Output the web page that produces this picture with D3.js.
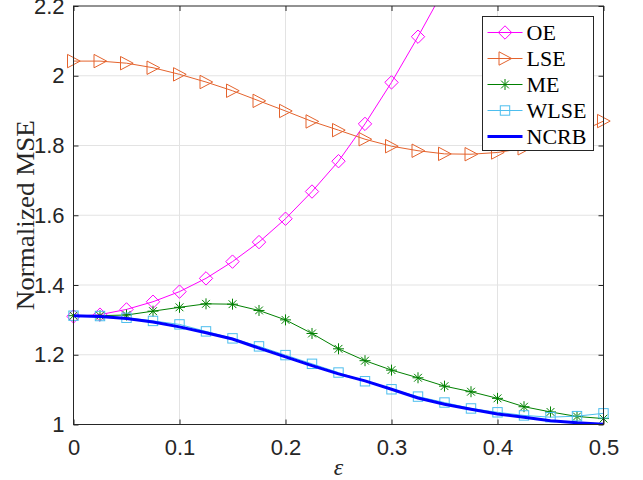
<!DOCTYPE html>
<html>
<head>
<meta charset="utf-8">
<script src="https://cdn.jsdelivr.net/npm/d3@7"></script>
<style>
  body { margin: 0; background: #fff; }
  svg { display: block; }
</style>
</head>
<body>
<svg width="643" height="480"></svg>
<script>
// data
const eps = [0, 0.025, 0.05, 0.075, 0.1, 0.125, 0.15, 0.175, 0.2, 0.225, 0.25,
             0.275, 0.3, 0.325, 0.35, 0.375, 0.4, 0.425, 0.45, 0.475, 0.5];
const oe   = [1.31, 1.315, 1.33, 1.352, 1.381, 1.419, 1.467, 1.523, 1.59, 1.668, 1.755,
              1.862, 1.981, 2.112, 2.25];
const lse  = [2.042, 2.042, 2.036, 2.023, 2.004, 1.982, 1.957, 1.928, 1.899, 1.869, 1.844,
              1.818, 1.798, 1.785, 1.776, 1.775, 1.78, 1.792, 1.81, 1.835, 1.87];
const me   = [1.312, 1.312, 1.314, 1.325, 1.336, 1.346, 1.345, 1.327, 1.3, 1.261, 1.217,
              1.183, 1.156, 1.134, 1.11, 1.094, 1.075, 1.051, 1.036, 1.023, 1.017];
const wlse = [1.312, 1.311, 1.306, 1.297, 1.287, 1.267, 1.247, 1.224, 1.199, 1.174, 1.149,
              1.124, 1.101, 1.08, 1.063, 1.046, 1.035, 1.026, 1.021, 1.024, 1.032];
const ncrb = [1.312, 1.31, 1.304, 1.294, 1.28, 1.263, 1.245, 1.219, 1.194, 1.169, 1.145,
              1.125, 1.101, 1.076, 1.058, 1.044, 1.03, 1.021, 1.011, 1.005, 1.001];

const xTicks = [0, 0.1, 0.2, 0.3, 0.4, 0.5];
const xTickLabels = ["0", "0.1", "0.2", "0.3", "0.4", "0.5"];
const yTicks = [1, 1.2, 1.4, 1.6, 1.8, 2, 2.2];
const yTickLabels = ["1", "1.2", "1.4", "1.6", "1.8", "2", "2.2"];

const series = [
  {name: "OE",   values: oe,   color: "#ff00ff", marker: "diamond",  width: 1},
  {name: "LSE",  values: lse,  color: "#e4632d", marker: "triangle", width: 1},
  {name: "ME",   values: me,   color: "#008000", marker: "asterisk", width: 1},
  {name: "WLSE", values: wlse, color: "#4dbeee", marker: "square",   width: 1},
  {name: "NCRB", values: ncrb, color: "#0000ff", marker: null,       width: 3}
];

const svg = d3.select("svg"),
    margin = {top: 6, right: 39.5, bottom: 55.5, left: 73.5},
    width = +svg.attr("width") - margin.left - margin.right,
    height = +svg.attr("height") - margin.top - margin.bottom;

const chart = svg.append("g").attr("transform", `translate(${margin.left},${margin.top})`);

const x = d3.scaleLinear().domain([0, 0.5]).range([0, width]);
const y = d3.scaleLinear().domain([1, 2.2]).range([height, 0]);

// grid
chart.append("g")
    .selectAll("line")
    .data(xTicks.slice(1, -1))
    .join("line")
    .attr("x1", d => x(d)).attr("x2", d => x(d))
    .attr("y1", 0).attr("y2", height)
    .attr("stroke", "#e3e3e3");
chart.append("g")
    .selectAll("line")
    .data(yTicks.slice(1, -1))
    .join("line")
    .attr("y1", d => y(d)).attr("y2", d => y(d))
    .attr("x1", 0).attr("x2", width)
    .attr("stroke", "#e3e3e3");

chart.append("defs").append("clipPath").attr("id", "clip")
  .append("rect").attr("width", width).attr("height", height);

const line = d3.line().x(d => x(d[0])).y(d => y(d[1]));

function drawMarker(g, type, color) {
  if (type === "diamond") {
    g.append("path").attr("d", "M0,-6.7L6.7,0L0,6.7L-6.7,0Z")
      .attr("fill", "none").attr("stroke", color);
  } else if (type === "triangle") {
    g.append("path").attr("d", "M-6,-6.7L6.7,0L-6,6.7Z")
      .attr("fill", "none").attr("stroke", color);
  } else if (type === "square") {
    g.append("rect").attr("x", -4.7).attr("y", -4.7).attr("width", 9.4).attr("height", 9.4)
      .attr("fill", "none").attr("stroke", color);
  } else if (type === "asterisk") {
    g.append("path").attr("d", "M0,-5.5V5.5M-5.5,0H5.5M-3.9,-3.9L3.9,3.9M-3.9,3.9L3.9,-3.9")
      .attr("fill", "none").attr("stroke", color);
  }
}

series.forEach(s => {
  const pts = s.values.map((v, i) => [eps[i], v]);
  chart.append("path")
      .datum(pts)
      .attr("clip-path", "url(#clip)")
      .attr("fill", "none")
      .attr("stroke", s.color)
      .attr("stroke-width", s.width)
      .attr("d", line);
  if (s.marker) {
    chart.append("g")
        .selectAll("g")
        .data(pts.filter(d => d[1] <= 2.2))
        .join("g")
        .attr("transform", d => `translate(${x(d[0])},${y(d[1])})`)
        .each(function() { drawMarker(d3.select(this), s.marker, s.color); });
  }
});

// axes
const axisColor = "#262626";
function styleAxis(g) {
  g.select(".domain").remove();
  g.selectAll(".tick line").attr("stroke", axisColor);
  g.selectAll(".tick text")
      .attr("fill", axisColor)
      .style("font-family", "'Liberation Sans', Arial, sans-serif")
      .style("font-size", "22px");
}

chart.append("g")
    .attr("transform", `translate(0,${height})`)
    .call(d3.axisBottom(x).tickValues(xTicks).tickSize(-5).tickPadding(15)
      .tickFormat((d, i) => xTickLabels[i]))
    .call(styleAxis);
chart.append("g")
    .call(d3.axisTop(x).tickValues(xTicks).tickSize(-5).tickFormat(""))
    .call(styleAxis);
chart.append("g")
    .call(d3.axisLeft(y).tickValues(yTicks).tickSize(-5).tickPadding(9)
      .tickFormat((d, i) => yTickLabels[i]))
    .call(styleAxis);
chart.append("g")
    .attr("transform", `translate(${width},0)`)
    .call(d3.axisRight(y).tickValues(yTicks).tickSize(-5).tickFormat(""))
    .call(styleAxis);

chart.append("rect")
    .attr("width", width)
    .attr("height", height)
    .attr("fill", "none")
    .attr("stroke", axisColor);

// axis labels
svg.append("text")
    .attr("x", margin.left + width / 2)
    .attr("y", 475)
    .attr("text-anchor", "middle")
    .style("font-family", "'Liberation Serif', serif")
    .style("font-style", "italic")
    .style("font-size", "24px")
    .attr("fill", axisColor)
    .text("ε");

svg.append("text")
    .attr("transform", `translate(34,${margin.top + height / 2}) rotate(-90)`)
    .attr("text-anchor", "middle")
    .attr("textLength", 190)
    .attr("lengthAdjust", "spacingAndGlyphs")
    .style("font-family", "'Liberation Serif', serif")
    .style("font-size", "25px")
    .attr("fill", axisColor)
    .text("Normalized MSE");

// Legend
const legendBox = svg.append("g").attr("transform", "translate(482.5,16.5)");
legendBox.append("rect")
    .attr("width", 111)
    .attr("height", 134)
    .attr("fill", "#fff")
    .attr("stroke", axisColor);

const legend = legendBox.selectAll("g.item")
    .data(series)
    .join("g")
    .attr("class", "item")
    .attr("transform", (d, i) => `translate(0,${16 + i * 26})`);

legend.append("line")
    .attr("x1", 5).attr("x2", 40)
    .attr("stroke", d => d.color)
    .attr("stroke-width", d => d.width);

legend.each(function(d) {
  if (d.marker) {
    const m = d3.select(this).append("g").attr("transform", "translate(22.5,0)");
    drawMarker(m, d.marker, d.color);
  }
});

legend.append("text")
    .attr("x", 44)
    .attr("y", 7)
    .style("font-family", "'Liberation Serif', serif")
    .style("font-size", "22px")
    .attr("fill", "#000")
    .text(d => d.name);
</script>
</body>
</html>
